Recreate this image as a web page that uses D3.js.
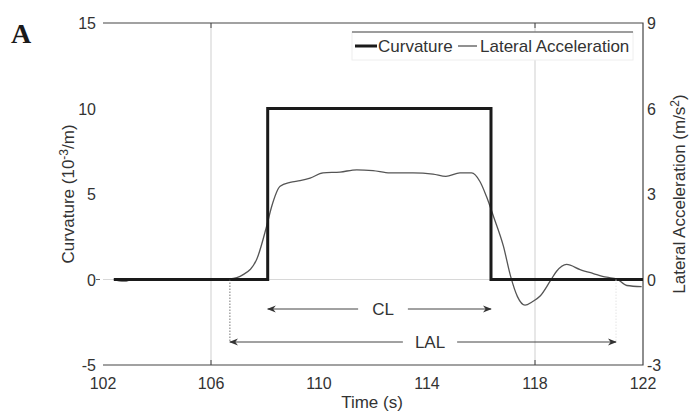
<!DOCTYPE html>
<html>
<head>
<meta charset="utf-8">
<script src="https://cdn.jsdelivr.net/npm/d3@7"></script>
<style>
  body { margin: 0; background: #fff; }
  text { font-family: "Liberation Sans", Arial, sans-serif; }
</style>
</head>
<body>
<svg id="chart"></svg>
<script>
// data
const curvT = [102.4, 108.1, 108.1, 116.37, 116.37, 122];
const curvV = [0, 0, 10, 10, 0, 0];

const accT = [102.4, 102.6, 102.8, 103.1, 104, 105, 106, 106.7, 107.19, 107.69, 108.06, 108.25, 108.56, 108.93, 109.3, 109.67,
  110.15, 110.78, 111.4, 112, 112.63, 113.48, 114.22, 114.7, 115.22, 115.65, 115.96, 116.2, 116.46, 116.83, 117.1,
  117.35, 117.63, 117.9, 118.19, 118.56, 118.8, 119.17, 119.67, 120.16, 120.65, 121.02, 121.4, 121.95];
const accV = [0, -0.05, -0.06, 0, 0, 0, 0, 0.02, 0.17, 0.7, 1.87, 2.57, 3.27, 3.41, 3.47, 3.56,
  3.74, 3.77, 3.85, 3.82, 3.74, 3.74, 3.70, 3.62, 3.74, 3.74, 3.44, 2.92, 2.22, 1.17, 0.1,
  -0.6, -0.9, -0.78, -0.58, -0.06, 0.29, 0.53, 0.35, 0.21, 0.08, 0.02, -0.21, -0.25];

const xTicks = [102, 106, 110, 114, 118, 122];
const yTicksL = [-5, 0, 5, 10, 15];
const yTicksR = [-3, 0, 3, 6, 9];
const gridX = [106, 118];

const clSpan = [108.1, 116.37];
const lalSpan = [106.7, 121.0];

const W = 691, H = 412;
const margin = {top: 23, right: 48, bottom: 47, left: 103};
const FS = 16;
const svg = d3.select('#chart').attr('width', W).attr('height', H);

const xscale = d3.scaleLinear().domain([102, 122]).range([margin.left, W - margin.right]);
const yL = d3.scaleLinear().domain([-5, 15]).range([H - margin.bottom, margin.top]);
const yR = d3.scaleLinear().domain([-3, 9]).range([H - margin.bottom, margin.top]);

const x0 = xscale.range()[0], x1 = xscale.range()[1];
const yb = yL.range()[0], yt = yL.range()[1];

// grid
svg.selectAll('.gx').data(gridX).join('line')
  .attr('x1', d => xscale(d)).attr('x2', d => xscale(d))
  .attr('y1', yt).attr('y2', yb)
  .attr('stroke', '#cfcfcf').attr('stroke-width', 1);
svg.append('line')
  .attr('x1', x0).attr('x2', x1).attr('y1', yL(0)).attr('y2', yL(0))
  .attr('stroke', '#d8d8d8').attr('stroke-width', 1);

// frame: top, bottom, right
svg.append('path')
  .attr('d', `M${x0},${yt}H${x1}V${yb}H${x0}`)
  .attr('fill', 'none').attr('stroke', '#444').attr('stroke-width', 1.2);

// ticks (inside, at grid positions)
gridX.forEach(t => {
  svg.append('line').attr('x1', xscale(t)).attr('x2', xscale(t)).attr('y1', yt).attr('y2', yt + 5).attr('stroke', '#444');
  svg.append('line').attr('x1', xscale(t)).attr('x2', xscale(t)).attr('y1', yb).attr('y2', yb - 5).attr('stroke', '#444');
});
svg.append('line').attr('x1', x0 - 7).attr('x2', x0 - 3).attr('y1', yL(0)).attr('y2', yL(0)).attr('stroke', '#666');

// tick labels
svg.selectAll('.xt').data(xTicks).join('text')
  .attr('x', d => xscale(d)).attr('y', yb + 24)
  .attr('text-anchor', 'middle').attr('font-size', FS).attr('fill', '#333')
  .text(d => d);
svg.selectAll('.yl').data(yTicksL).join('text')
  .attr('x', x0 - 7).attr('y', d => yL(d) + 6)
  .attr('text-anchor', 'end').attr('font-size', FS).attr('fill', '#333')
  .text(d => d);
svg.selectAll('.yr').data(yTicksR).join('text')
  .attr('x', x1 + 4).attr('y', d => yR(d) + 6)
  .attr('text-anchor', 'start').attr('font-size', FS).attr('fill', '#333')
  .text(d => d);

// axis titles
svg.append('text')
  .attr('transform', `translate(74,194) rotate(-90)`)
  .attr('text-anchor', 'middle').attr('font-size', 17).attr('fill', '#333')
  .html('Curvature (10<tspan dy="-6" font-size="12">-3</tspan><tspan dy="6">/m)</tspan>');
svg.append('text')
  .attr('transform', `translate(685,194) rotate(-90)`)
  .attr('text-anchor', 'middle').attr('font-size', 17).attr('fill', '#333')
  .html('Lateral Acceleration (m/s<tspan dy="-6" font-size="12">2</tspan><tspan dy="6">)</tspan>');
svg.append('text')
  .attr('x', 372).attr('y', 408)
  .attr('text-anchor', 'middle').attr('font-size', 17).attr('fill', '#333')
  .text('Time (s)');

// panel letter
svg.append('text')
  .attr('x', 11).attr('y', 43)
  .style('font-family', '"Liberation Serif", "Times New Roman", serif')
  .attr('font-weight', 'bold').attr('font-size', 28).attr('fill', '#1a1a1a')
  .text('A');

// lines
const accLine = d3.line()
  .x((d, i) => xscale(accT[i]))
  .y(d => yR(d))
  .curve(d3.curveMonotoneX);
svg.append('path')
  .datum(accV)
  .attr('d', accLine)
  .attr('fill', 'none').attr('stroke', '#555').attr('stroke-width', 1.3);

const curvLine = d3.line()
  .x((d, i) => xscale(curvT[i]))
  .y(d => yL(d));
svg.append('path')
  .datum(curvV)
  .attr('d', curvLine)
  .attr('fill', 'none').attr('stroke', '#1a1a1a').attr('stroke-width', 3);

// arrows
const defs = svg.append('defs');
['s', 'e'].forEach(k => {
  defs.append('marker')
    .attr('id', 'arr-' + k)
    .attr('viewBox', '0 0 10 10').attr('refX', 9).attr('refY', 5)
    .attr('markerWidth', 9).attr('markerHeight', 9)
    .attr('orient', k === 's' ? 'auto-start-reverse' : 'auto')
    .attr('markerUnits', 'userSpaceOnUse')
    .append('path').attr('d', 'M0,1 L10,5 L0,9 L3,5 Z').attr('fill', '#333');
});

function spanArrow(span, y, label, lx, gap) {
  const a = xscale(span[0]), b = xscale(span[1]);
  svg.append('line').attr('x1', a).attr('x2', b).attr('y1', y).attr('y2', y)
    .attr('stroke', '#444').attr('stroke-width', 1)
    .attr('marker-start', 'url(#arr-s)').attr('marker-end', 'url(#arr-e)');
  const t = svg.append('text').attr('x', lx).attr('y', y + 6)
    .attr('text-anchor', 'middle').attr('font-size', 17).attr('fill', '#333').text(label);
  const bb = t.node().getBBox();
  svg.insert('rect', 'text:last-of-type')
    .attr('x', bb.x - gap).attr('y', y - 3).attr('width', bb.width + 2 * gap).attr('height', 6)
    .attr('fill', '#fff');
  t.raise();
}
spanArrow(clSpan, 309, 'CL', 383, 14);
spanArrow(lalSpan, 342, 'LAL', 430, 12);

// dotted guides for LAL
lalSpan.forEach((t, i) => {
  svg.append('line')
    .attr('x1', xscale(t)).attr('x2', xscale(t)).attr('y1', yL(0)).attr('y2', 342)
    .attr('stroke', i === 0 ? '#555' : '#ddd').attr('stroke-width', 0.8)
    .attr('stroke-dasharray', '1.5,1.5');
});

// legend
const lg = svg.append('g');
lg.append('rect').attr('x', 352).attr('y', 32).attr('width', 281).attr('height', 28)
  .attr('fill', '#fff').attr('stroke', '#eee');
lg.append('line').attr('x1', 352).attr('x2', 633).attr('y1', 32).attr('y2', 32).attr('stroke', '#444');
lg.append('line').attr('x1', 355).attr('x2', 377).attr('y1', 46).attr('y2', 46)
  .attr('stroke', '#1a1a1a').attr('stroke-width', 3);
lg.append('text').attr('x', 378).attr('y', 52).attr('font-size', 17).attr('fill', '#333').text('Curvature');
lg.append('line').attr('x1', 458).attr('x2', 477).attr('y1', 46).attr('y2', 46)
  .attr('stroke', '#555').attr('stroke-width', 1.3);
lg.append('text').attr('x', 480).attr('y', 52).attr('font-size', 17).attr('fill', '#333').text('Lateral Acceleration');
</script>
</body>
</html>
